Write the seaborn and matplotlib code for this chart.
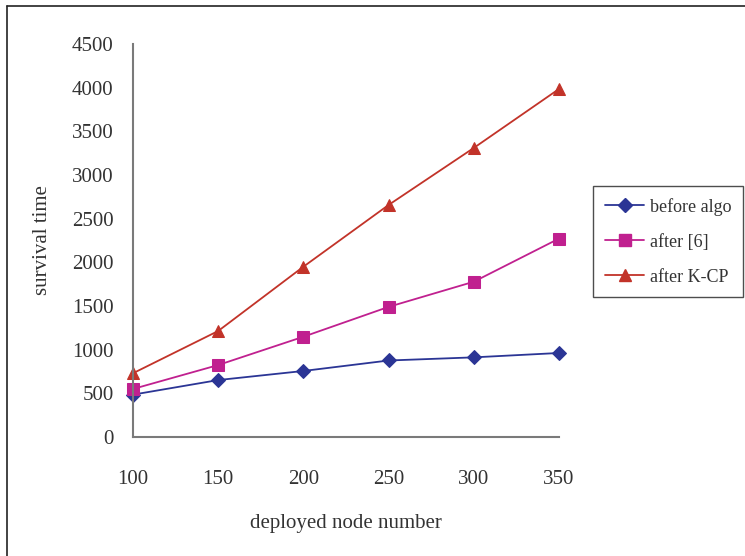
import matplotlib
matplotlib.use("Agg")
import matplotlib.pyplot as plt
import seaborn as sns
import pandas as pd
from matplotlib.lines import Line2D

nodes = [100, 150, 200, 250, 300, 350]
before_algo = [485, 652, 756, 876, 912, 962]
after_6 = [550, 824, 1148, 1490, 1778, 2272]
after_kcp = [730, 1214, 1950, 2657, 3310, 3985]
series_names = ["before algo", "after [6]", "after K-CP"]
y_ticks = [0, 500, 1000, 1500, 2000, 2500, 3000, 3500, 4000, 4500]

colors = {"before algo": "#2B3595", "after [6]": "#C0208F", "after K-CP": "#C23329"}
markers = {"before algo": "D", "after [6]": "s", "after K-CP": "^"}
msizes = {"before algo": 7.5, "after [6]": 8, "after K-CP": 8.5}

df = pd.DataFrame({
    "nodes": nodes * 3,
    "value": before_algo + after_6 + after_kcp,
    "series": sum([[s] * len(nodes) for s in series_names], []),
})

sns.set_style("white")
plt.rcParams["font.family"] = ["Liberation Serif", "DejaVu Serif"]

fig = plt.figure(figsize=(7.45, 5.56), dpi=100)
ax = fig.add_axes([133 / 745, 1 - 437 / 556, (559 - 133) / 745, (437 - 44) / 556])

for s in series_names:
    sub = df[df["series"] == s]
    sns.lineplot(data=sub, x="nodes", y="value", ax=ax, color=colors[s],
                 marker=markers[s], markersize=msizes[s], markeredgecolor=colors[s],
                 linewidth=1.3, label=s, legend=False)

ax.set_xlim(100, 350)
ax.set_ylim(0, 4500)
ax.set_xticks(nodes)
ax.set_yticks(y_ticks)
ax.set_xticklabels([str(n) for n in nodes])
ax.set_yticklabels([str(v) for v in y_ticks])
for sp in ["top", "right"]:
    ax.spines[sp].set_visible(False)
for sp in ["left", "bottom"]:
    ax.spines[sp].set_color("#7a7a7a")
    ax.spines[sp].set_linewidth(1.5)
ax.tick_params(axis="both", direction="in", length=6, width=1.2, color="#555555",
               labelsize=15, labelcolor="#333333")
ax.tick_params(axis="x", pad=24)
ax.tick_params(axis="y", pad=14)
ax.set_xlabel("deployed node number", fontsize=15, color="#333333", labelpad=18)
ax.set_ylabel("survival time", fontsize=15, color="#333333", labelpad=14)
for ln in ax.lines:
    ln.set_clip_on(False)

handles = [Line2D([0], [0], color=colors[s], marker=markers[s], markersize=msizes[s],
                  linewidth=1.3) for s in series_names]
leg = fig.legend(handles, series_names, loc="upper left",
                 bbox_to_anchor=(593 / 745, 1 - 186 / 556), fontsize=13,
                 frameon=True, fancybox=False, edgecolor="#222222",
                 handlelength=2.2, handletextpad=0.3, labelspacing=1.0,
                 borderpad=0.65, borderaxespad=0)
leg.get_frame().set_linewidth(1.0)
for t in leg.get_texts():
    t.set_color("#333333")

# outer chart frame
fig.add_artist(Line2D([7 / 745, 1.2], [1 - 6 / 556, 1 - 6 / 556], color="#222222", lw=1.2, transform=fig.transFigure))
fig.add_artist(Line2D([7 / 745, 7 / 745], [-0.2, 1 - 6 / 556], color="#222222", lw=1.2, transform=fig.transFigure))

fig.savefig("out.png", dpi=100)
